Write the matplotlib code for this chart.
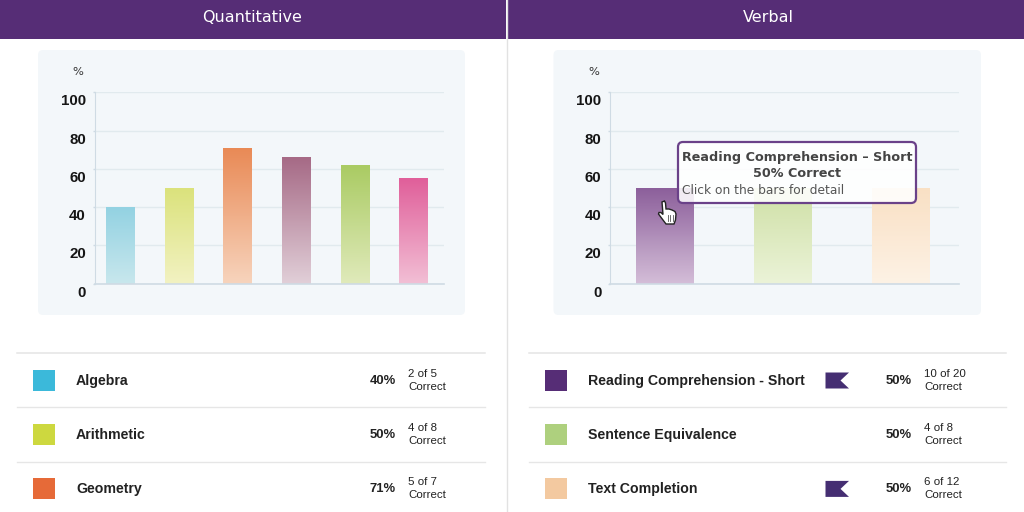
import numpy as np
import matplotlib
matplotlib.use('Agg')
import matplotlib.pyplot as plt
from matplotlib.colors import LinearSegmentedColormap
from matplotlib.patches import FancyBboxPatch, Rectangle, Polygon
from matplotlib.transforms import ScaledTranslation

# section scores
quant_values = [40, 50, 71, 66, 62, 55]
quant_top = ['#93d2e2', '#dbe27c', '#e98a56', '#a66a86', '#aacb63', '#e05f9a']
quant_bottom = ['#c8e7ed', '#f2f2c2', '#f7d4bd', '#e1cfd8', '#e0eabb', '#f2bfd5']

verbal_values = [50, 50, 50]
verbal_top = ['#8c5f9b', '#cfe0a6', '#f9e0c4']
verbal_bottom = ['#d4bed8', '#ebf3d8', '#fdf2e5']

y_ticks = [0, 20, 40, 60, 80, 100]

# rows under the charts
quant_names = ['Algebra', 'Arithmetic', 'Geometry']
quant_pct = ['40%', '50%', '71%']
quant_counts = ['2 of 5', '4 of 8', '5 of 7']
quant_swatch = ['#3bb9da', '#cdd83f', '#e66a38']

verbal_names = ['Reading Comprehension - Short', 'Sentence Equivalence', 'Text Completion']
verbal_pct = ['50%', '50%', '50%']
verbal_counts = ['10 of 20', '4 of 8', '6 of 12']
verbal_swatch = ['#562d76', '#aed07e', '#f3c9a0']
verbal_flag = [True, False, True]

W, H = 1024, 512
PURPLE = '#562d76'
GRID = '#e1eaee'
AXIS = '#cfdbe4'
BOLD = 'Liberation Sans'


def px(size):
    return size * 0.72


fig = plt.figure(figsize=(W / 100, H / 100), dpi=100, facecolor='white')

# page furniture lives in a full-figure axes measured in pixels
bg = fig.add_axes([0, 0, 1, 1], zorder=0)
bg.set_xlim(0, W)
bg.set_ylim(H, 0)
bg.axis('off')


def chart_axes(x0, x1, y0, y1, xlim):
    ax = fig.add_axes([x0 / W, 1 - y1 / H, (x1 - x0) / W, (y1 - y0) / H], zorder=1)
    ax.patch.set_alpha(0)
    ax.set_xlim(*xlim)
    ax.set_ylim(0, 100)
    ax.set_xticks([])
    ax.set_yticks(y_ticks)
    ax.tick_params(axis='y', length=1.5, width=1, color=AXIS, pad=5, labelsize=px(15))
    ax.grid(axis='y', color=GRID, lw=1)
    ax.set_axisbelow(True)
    for s in ['top', 'right']:
        ax.spines[s].set_visible(False)
    ax.spines['left'].set_color(AXIS)
    ax.spines['bottom'].set_color(AXIS)
    ax.spines['bottom'].set_linewidth(1.2)
    # numbers hang just below their gridline
    shift = ScaledTranslation(0, -2 / 100, fig.dpi_scale_trans)
    for lab in ax.get_yticklabels():
        lab.set_va('top')
        lab.set_fontfamily(BOLD)
        lab.set_fontweight('bold')
        lab.set_color('#151515')
        lab.set_transform(lab.get_transform() + shift)
    return ax


def gradient_bars(ax, values, width, tops, bottoms):
    xlim = ax.get_xlim()
    bars = ax.bar(range(len(values)), values, width=width, color='none', zorder=2)
    for bar, c1, c2 in zip(bars, tops, bottoms):
        cmap = LinearSegmentedColormap.from_list('g', [c2, c1])
        grad = np.linspace(0, 1, 128).reshape(-1, 1)
        ext = [bar.get_x(), bar.get_x() + bar.get_width(), 0, bar.get_height()]
        ax.imshow(grad, cmap=cmap, extent=ext, origin='lower', aspect='auto', zorder=2)
    ax.set_xlim(*xlim)
    ax.set_ylim(0, 100)


def rows(names, pct, counts, swatch, x_line0, x_line1, x_sw, x_name, x_pct, x_count, flags=None):
    bg.plot([x_line0, x_line1], [353, 353], color='#e4e4e4', lw=1.1)
    for i in range(3):
        yc = 380.5 + i * 54.2
        if i > 0:
            bg.plot([x_line0, x_line1], [yc - 27.3, yc - 27.3], color='#e6e6e6', lw=1)
        bg.add_patch(Rectangle((x_sw, yc - 11), 21.5, 21.5, fc=swatch[i], ec='none'))
        bg.text(x_name, yc, names[i], fontsize=px(14.1), fontfamily=BOLD, fontweight='bold',
                color='#222222', va='center', ha='left')
        bg.text(x_pct, yc, pct[i], fontsize=px(13), fontfamily=BOLD, fontweight='bold',
                color='#222222', va='center', ha='right')
        bg.text(x_count, yc - 6.5, counts[i], fontsize=px(11.5), fontfamily=BOLD,
                color='#222222', va='center', ha='left')
        bg.text(x_count, yc + 6.5, 'Correct', fontsize=px(11.5), fontfamily=BOLD,
                color='#222222', va='center', ha='left')
        if flags and flags[i]:
            x = 825.5
            bg.add_patch(Polygon([(x, yc - 8), (x + 23.5, yc - 8), (x + 15, yc), (x + 23.5, yc + 8), (x, yc + 8)],
                                 fc='#452e72', ec='none'))


# headers
for x0, x1, label, xc in [(0, 506, 'Quantitative', 252), (508, W, 'Verbal', 768)]:
    bg.add_patch(Rectangle((x0, 0), x1 - x0, 38.5, fc=PURPLE, ec='none'))
    bg.text(xc, 17, label, color='white', fontsize=px(16), fontfamily='DejaVu Sans',
            ha='center', va='center')
bg.plot([507, 507], [0, H], color='#e2e2e2', lw=1)

# chart backgrounds
for x0, x1 in [(38, 465), (553.5, 981)]:
    bg.add_patch(FancyBboxPatch((x0 + 4, 54), x1 - x0 - 8, 257, boxstyle='round,pad=4,rounding_size=5',
                                fc='#f3f7fa', ec='none'))
bg.text(78, 72, '%', fontsize=px(11.5), fontfamily='DejaVu Sans', color='#333333', ha='center', va='center')
bg.text(593.5, 72, '%', fontsize=px(11.5), fontfamily='DejaVu Sans', color='#333333', ha='center', va='center')

ax1 = chart_axes(95, 443.5, 92.3, 283.7, (-0.43, 5.51))
gradient_bars(ax1, quant_values, 0.49, quant_top, quant_bottom)

ax2 = chart_axes(610.3, 958.8, 92.3, 283.7, (-0.46, 2.49))
gradient_bars(ax2, verbal_values, 0.487, verbal_top, verbal_bottom)

rows(quant_names, quant_pct, quant_counts, quant_swatch, 17, 485, 33, 76, 396, 408)
rows(verbal_names, verbal_pct, verbal_counts, verbal_swatch, 529, 1006, 545, 588, 912, 924, verbal_flag)

# hover tooltip and cursor on top of everything
top = fig.add_axes([0, 0, 1, 1], zorder=3)
top.patch.set_alpha(0)
top.set_xlim(0, W)
top.set_ylim(H, 0)
top.axis('off')
top.add_patch(FancyBboxPatch((682, 146), 230, 53, boxstyle='round,pad=4,rounding_size=5',
                             fc=(1, 1, 1, 0.88), ec='#6a4189', lw=1.6))
top.text(797, 157, verbal_names[0].replace('-', '\u2013'), fontsize=px(12.7), fontfamily='DejaVu Sans',
         fontweight='bold', color='#444444', ha='center', va='center')
top.text(797, 173.5, verbal_pct[0] + ' Correct', fontsize=px(12.7), fontfamily='DejaVu Sans',
         fontweight='bold', color='#444444', ha='center', va='center')
top.text(682, 191, 'Click on the bars for detail', fontsize=px(12.3), fontfamily='DejaVu Sans',
         color='#555555', ha='left', va='center')

hand = [(662, 202), (664.5, 201), (665.5, 203), (666, 209), (669, 209), (672, 210), (675, 211.5), (676, 214),
        (675.5, 220), (674, 224), (666, 224), (663, 220), (658.5, 214), (659, 212.5), (661, 212.5), (663, 214.5)]
top.add_patch(Polygon(hand, fc='white', ec='#222222', lw=1))
for xf in [667.5, 670, 672.5]:
    top.plot([xf, xf], [215, 220.5], color='#555555', lw=0.6)

fig.savefig('out.png', dpi=100, facecolor='white')
